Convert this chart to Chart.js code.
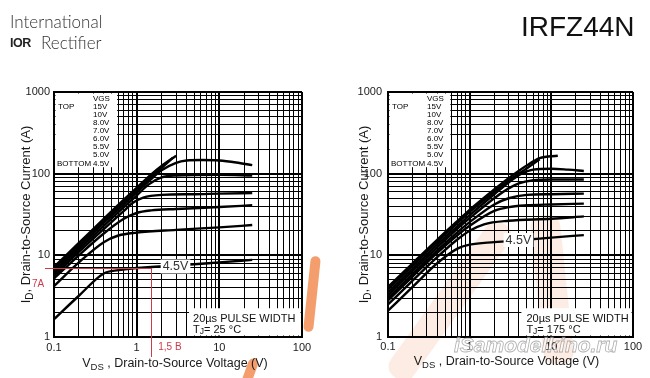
<!DOCTYPE html>
<html><head><meta charset="utf-8">
<script src="https://cdn.jsdelivr.net/npm/chart.js@4.4.1/dist/chart.umd.min.js"></script>
<style>
html,body{margin:0;padding:0;background:#fff;}
#wrap{position:relative;width:650px;height:378px;overflow:hidden;background:#fff;font-family:'Liberation Sans',Arial,sans-serif;}
canvas{position:absolute;top:0;}
#c25{left:0;} #c175{left:330px;}
.hdr{position:absolute;white-space:nowrap;line-height:1;}
.wm{position:absolute;}
</style></head><body>
<div id="wrap">
  <!-- watermark shapes (behind charts) -->
  <div class="wm" style="left:436px;top:207px;width:28px;height:188px;background:rgba(246,168,128,0.22);transform:rotate(35.7deg);border-radius:12px;"></div>
  <div class="wm" style="left:537px;top:215px;width:30px;height:150px;background:rgba(246,168,128,0.22);transform:rotate(-6deg);border-radius:12px;"></div>
  <div class="wm" style="left:307px;top:256px;width:10px;height:76px;background:rgba(240,125,60,0.75);transform:rotate(6deg);border-radius:5px;"></div>
  <div class="wm" style="left:245px;top:358px;width:10px;height:28px;background:rgba(240,125,60,0.75);transform:rotate(20deg);border-radius:5px;"></div>
  <canvas id="c25" width="330" height="378"></canvas>
  <canvas id="c175" width="320" height="378"></canvas>
  <div class="hdr" style="left:10px;top:11px;font:300 17px Lato,'Noto Sans',sans-serif;color:#333;">International</div>
  <div class="hdr" style="left:10px;top:36px;font:900 12.5px 'Liberation Sans',Arial,sans-serif;color:#222;letter-spacing:-0.5px;">IOR</div>
  <div class="hdr" style="left:41px;top:32px;font:300 17px Lato,'Noto Sans',sans-serif;color:#333;">Rectifier</div>
  <div class="hdr" style="left:521px;top:11px;font:28px 'Liberation Sans',Arial,sans-serif;color:#111;">IRFZ44N</div>
  <div class="hdr" style="left:454px;top:333px;font:italic bold 21px 'Liberation Sans',Arial,sans-serif;color:rgba(255,255,255,0.55);-webkit-text-stroke:0.8px rgba(110,110,110,0.55);">iSamodelkino.ru</div>
</div>
<script>
// ---------- data ----------
const vgsLabels = ['15V', '10V', '8.0V', '7.0V', '6.0V', '5.5V', '5.0V', '4.5V'];
const xTickLabels = ['0.1', '1', '10', '100'];
const yTickLabels = ['1', '10', '100', '1000'];

// TJ = 25 °C  [VDS (V), ID (A)]
const c25_15V = [[0.1,7.2],[0.2,14.2],[0.4,28],[0.7,48],[1,67],[1.5,98],[2,124],[3,166]];
const c25_10V = [[0.1,6.8],[0.2,13.4],[0.4,26.5],[0.7,45],[1,63],[1.5,92],[2,117],[2.75,157]];
const c25_8V  = [[0.1,6.4],[0.2,12.6],[0.4,25],[0.7,42],[1,59],[1.5,86],[2,110],[3,136],[4,145],[6,147],[10,145],[16,137],[25,127]];
const c25_7V  = [[0.1,6.0],[0.2,11.8],[0.4,23],[0.7,39],[1,54],[1.4,74],[2,90],[3,95],[10,97],[25,95]];
const c25_6V  = [[0.1,5.6],[0.2,11],[0.4,21],[0.7,35],[0.9,44],[1.2,51],[2,55],[5,56],[10,57],[25,58]];
const c25_55V = [[0.1,5.2],[0.2,10],[0.4,18.5],[0.7,28],[1,33],[1.5,35.5],[3,37],[10,39],[25,41]];
const c25_5V  = [[0.1,4.2],[0.2,8.2],[0.4,14.5],[0.6,17.5],[1,19],[3,20.5],[10,22],[25,23.5]];
const c25_45V = [[0.1,1.65],[0.2,3.2],[0.4,6.0],[0.6,6.6],[1,7.0],[1.5,7.2],[3,7.5],[10,8.2],[25,8.8]];

// TJ = 175 °C
const c175_15V = [[0.1,4.1],[0.2,8],[0.4,15.5],[0.7,26],[1,36],[2,64],[3,88],[5,126],[7.2,155],[12,166]];
const c175_10V = [[0.1,3.8],[0.2,7.5],[0.4,14.6],[0.7,24.5],[1,34],[2,60],[3,82],[5,116],[7.2,150]];
const c175_8V  = [[0.1,3.5],[0.2,6.9],[0.4,13.5],[0.7,22.5],[1,31],[2,56],[3,78],[4,96],[6,112],[10,115],[16,112],[25,108]];
const c175_7V  = [[0.1,3.25],[0.2,6.4],[0.4,12.5],[0.7,21],[1,28.5],[2,50],[3,66],[4,76],[6,83],[10,85],[25,85]];
const c175_6V  = [[0.1,3.0],[0.2,5.9],[0.4,11.5],[0.7,19],[1,25.5],[2,42],[3,50],[5,55],[10,56],[25,57]];
const c175_55V = [[0.1,2.8],[0.2,5.5],[0.4,10.7],[0.7,17.5],[1,23],[2,35],[3,39],[5,41],[10,42],[25,43]];
const c175_5V  = [[0.1,2.5],[0.2,4.9],[0.4,9.5],[0.7,15.5],[1,20],[1.5,24],[3,26.5],[10,28],[25,30]];
const c175_45V = [[0.1,2.1],[0.2,4.1],[0.4,8],[0.7,12],[1,13.5],[2,14.5],[5,15.5],[10,16.5],[25,17.7]];

const curves25  = [c25_15V, c25_10V, c25_8V, c25_7V, c25_6V, c25_55V, c25_5V, c25_45V];
const curves175 = [c175_15V, c175_10V, c175_8V, c175_7V, c175_6V, c175_55V, c175_5V, c175_45V];

// ---------- helpers ----------
const FONT = "'Liberation Sans', Arial, sans-serif";
Chart.defaults.font.family = FONT;
const isMajor = v => Math.abs(Math.log10(v) - Math.round(Math.log10(v))) < 1e-6;
function gridValues(start, decades) {
  const out = [];
  for (let d = 0; d < decades; d++) {
    const base = start * Math.pow(10, d);
    for (let m = 1; m < 10; m++) out.push(+(base * m).toPrecision(3));
  }
  out.push(+(start * Math.pow(10, decades)).toPrecision(3));
  return out;
}
const xGrid = gridValues(0.1, 3);
const yGrid = gridValues(1, 3);

function drawSubText(ctx, parts, x, y, align) {
  let w = 0;
  parts.forEach(p => { ctx.font = p[1] + 'px ' + FONT; w += ctx.measureText(p[0]).width; });
  let cx = align === 'center' ? x - w / 2 : x;
  ctx.textAlign = 'left';
  parts.forEach(p => { ctx.font = p[1] + 'px ' + FONT; ctx.fillText(p[0], cx, y + p[2]); cx += ctx.measureText(p[0]).width; });
}

const overlay = {
  id: 'overlay',
  afterDraw(chart, args, o) {
    const { ctx, chartArea: a, scales: { x, y } } = chart;
    ctx.save();
    // legend box
    ctx.fillStyle = '#fff';
    const lbR = x.getPixelForValue(o.legendEdge[0]);
    const lbB = y.getPixelForValue(o.legendEdge[1]);
    ctx.fillRect(a.left + 1.5, a.top + 1.5, lbR - a.left - 1.5, lbB - a.top - 1.5);
    ctx.fillStyle = '#000';
    ctx.font = '8px ' + FONT;
    ctx.textBaseline = 'middle';
    ctx.textAlign = 'left';
    const row0 = a.top + 6.5, dy = 8.1;
    ctx.fillText('VGS', a.left + 39, row0);
    vgsLabels.forEach((l, i) => ctx.fillText(l, a.left + 39, row0 + (i + 1) * dy));
    ctx.fillText('TOP', a.left + 4, row0 + dy);
    ctx.fillText('BOTTOM', a.left + 3, row0 + 8 * dy);
    // pulse box
    ctx.fillStyle = '#fff';
    const pbL = x.getPixelForValue(o.pulseEdge[0]);
    const pbT = y.getPixelForValue(o.pulseEdge[1]);
    ctx.fillRect(pbL, pbT, a.right - 1.5 - pbL, a.bottom - 1.5 - pbT);
    ctx.fillStyle = '#111';
    ctx.textBaseline = 'alphabetic';
    ctx.font = '11px ' + FONT;
    ctx.fillText('20\u00b5s PULSE WIDTH', pbL + o.pulseTextDx, a.bottom - 15.5);
    drawSubText(ctx, [['T', 11, 0], ['J', 8.5, 1.5], ['= ' + o.tj + ' \u00b0C', 11, 0]], pbL + o.pulseTextDx, a.bottom - 4.5, 'left');
    // 4.5V label
    const lx = x.getPixelForValue(o.label45[0]), ly = y.getPixelForValue(o.label45[1]);
    ctx.font = '12.5px ' + FONT;
    const lw = ctx.measureText('4.5V').width;
    ctx.fillStyle = '#fff';
    ctx.fillRect(lx - lw / 2 - 2, ly - 7, lw + 4, 14);
    ctx.fillStyle = '#333';
    ctx.textAlign = 'center';
    ctx.textBaseline = 'middle';
    ctx.fillText('4.5V', lx, ly + 0.5);
    // red annotation
    if (o.redMark) {
      const rx = x.getPixelForValue(o.redMark[0]), ry = y.getPixelForValue(o.redMark[1]);
      ctx.strokeStyle = '#cc3b4c';
      ctx.lineWidth = 1;
      ctx.beginPath();
      ctx.moveTo(a.left - 9, Math.round(ry) + 0.5); ctx.lineTo(rx, Math.round(ry) + 0.5);
      ctx.moveTo(Math.round(rx) + 0.5, ry); ctx.lineTo(Math.round(rx) + 0.5, a.bottom + 20);
      ctx.stroke();
      ctx.fillStyle = '#cc3b4c';
      ctx.font = '10px ' + FONT;
      ctx.textAlign = 'left';
      ctx.textBaseline = 'middle';
      ctx.fillText('7A', a.left - 22, ry + 16);
      ctx.fillText('1,5 B', rx + 7, a.bottom + 10);
    }
    // axis titles
    ctx.fillStyle = '#1a1a1a';
    ctx.textBaseline = 'alphabetic';
    drawSubText(ctx, [['V', 12.5, 0], ['DS', 9.5, 3], [' , Drain-to-Source Voltage (V)', 12.5, 0]],
      (a.left + a.right) / 2 + o.xTitleDx, o.xTitleY, 'center');
    ctx.save();
    ctx.translate(o.yTitleX, (a.top + a.bottom) / 2);
    ctx.rotate(-Math.PI / 2);
    drawSubText(ctx, [['I', 13, 0], ['D', 10, 3], [', Drain-to-Source Current (A)', 13, 0]], 0, 0, 'center');
    ctx.restore();
    ctx.restore();
  }
};

function makeChart(id, curves, cfg) {
  const datasets = curves.map((c, i) => ({
    label: vgsLabels[i],
    data: c.map(p => ({ x: p[0], y: p[1] })),
    borderColor: '#000',
    borderWidth: 2.4,
    pointRadius: 0,
    fill: false,
    cubicInterpolationMode: 'monotone'
  }));
  const gridOpts = {
    color: '#000',
    lineWidth: c => (c.tick && isMajor(c.tick.value)) ? 2 : 1,
    drawTicks: false
  };
  return new Chart(document.getElementById(id), {
    type: 'line',
    data: { datasets },
    options: {
      responsive: false,
      devicePixelRatio: 1,
      animation: false,
      layout: { padding: { left: 0, top: 92, right: cfg.rightPad, bottom: 0 } },
      plugins: { legend: { display: false }, tooltip: { enabled: false }, overlay: cfg.overlay },
      scales: {
        x: {
          type: 'logarithmic', min: 0.1, max: 100,
          afterBuildTicks: s => { s.ticks = xGrid.map(v => ({ value: v, major: isMajor(v) })); },
          afterFit: s => { s.height = 41; },
          ticks: {
            autoSkip: false, maxRotation: 0, padding: cfg.xPad, color: '#222', font: { size: 11 },
            callback: v => isMajor(v) ? xTickLabels[Math.round(Math.log10(v)) + 1] : ''
          },
          grid: gridOpts,
          border: { display: true, color: '#000', width: 2 }
        },
        y: {
          type: 'logarithmic', min: 1, max: 1000,
          afterBuildTicks: s => { s.ticks = yGrid.map(v => ({ value: v, major: isMajor(v) })); },
          afterFit: s => { s.width = cfg.yWidth; },
          ticks: {
            autoSkip: false, padding: cfg.yPad, color: '#222', font: { size: 11 },
            callback: v => isMajor(v) ? yTickLabels[Math.round(Math.log10(v))] : ''
          },
          grid: gridOpts,
          border: { display: true, color: '#000', width: 2 }
        }
      }
    },
    plugins: [overlay]
  });
}

makeChart('c25', curves25, {
  rightPad: 28, yWidth: 54, xPad: 4, yPad: 4,
  overlay: {
    legendEdge: [0.58, 120], pulseEdge: [4.3, 2.25], pulseTextDx: 4, tj: '25',
    label45: [2.95, 7.3], redMark: [1.5, 7],
    xTitleDx: -3, xTitleY: 367, yTitleX: 30
  }
});
makeChart('c175', curves175, {
  rightPad: 17, yWidth: 58, xPad: 3, yPad: 6,
  overlay: {
    legendEdge: [0.58, 120], pulseEdge: [4.3, 2.25], pulseTextDx: 5, tj: '175',
    label45: [3.96, 15.4], redMark: null,
    xTitleDx: -4, xTitleY: 365, yTitleX: 38
  }
});
</script>
</body></html>
